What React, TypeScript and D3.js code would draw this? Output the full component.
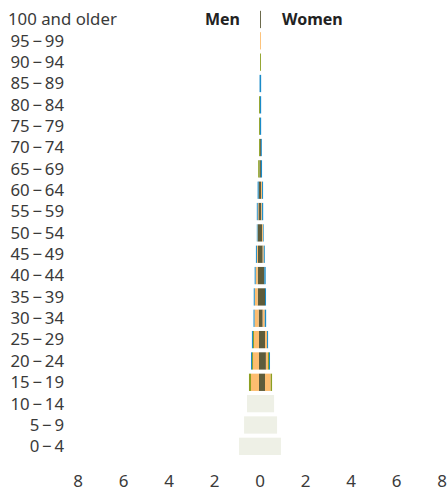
import React from "react";
import * as d3 from "d3";

const ageGroups = [
  "100 and older", "95\u2009\u2212\u200999", "90\u2009\u2212\u200994", "85\u2009\u2212\u200989", "80\u2009\u2212\u200984",
  "75\u2009\u2212\u200979", "70\u2009\u2212\u200974", "65\u2009\u2212\u200969", "60\u2009\u2212\u200964", "55\u2009\u2212\u200959",
  "50\u2009\u2212\u200954", "45\u2009\u2212\u200949", "40\u2009\u2212\u200944", "35\u2009\u2212\u200939", "30\u2009\u2212\u200934",
  "25\u2009\u2212\u200929", "20\u2009\u2212\u200924", "15\u2009\u2212\u200919", "10\u2009\u2212\u200914", "5\u2009\u2212\u20099",
  "0\u2009\u2212\u20094",
];

const seriesKeys = ["dark", "orange", "green", "blue", "grey"];
const seriesColors = ["#5e5c3b", "#fdbd70", "#8c9f22", "#1a8bc8", "#eef0e6"];

// Men, share of population (%) per series, rows top (oldest) to bottom
const menDark   = [0, 0, 0, 0, 0, 0, 0, 0.02, 0.06, 0.07, 0.09, 0.09, 0.10, 0.10, 0.06, 0.045, 0.045, 0.045, 0, 0, 0];
const menOrange = [0, 0, 0, 0, 0, 0, 0, 0, 0, 0.03, 0.02, 0.045, 0.09, 0.13, 0.18, 0.22, 0.26, 0.35, 0, 0, 0];
const menGreen  = [0, 0, 0, 0, 0.04, 0.04, 0.04, 0.06, 0, 0, 0, 0, 0, 0, 0, 0.045, 0.045, 0.09, 0, 0, 0];
const menBlue   = [0, 0, 0, 0.02, 0, 0, 0, 0, 0.045, 0.04, 0.03, 0.045, 0.045, 0.045, 0.045, 0.045, 0.045, 0, 0, 0, 0];
const menGrey   = [0, 0, 0, 0, 0, 0, 0, 0, 0, 0, 0, 0, 0, 0, 0, 0, 0, 0, 0.57, 0.70, 0.92];

// Women
const womenDark   = [0.04, 0, 0, 0, 0, 0, 0.04, 0.04, 0.045, 0.06, 0.09, 0.12, 0.19, 0.22, 0.12, 0.22, 0.26, 0.22, 0, 0, 0];
const womenOrange = [0, 0.04, 0, 0, 0, 0, 0, 0, 0.045, 0.03, 0.04, 0.045, 0, 0, 0.09, 0.09, 0.09, 0.25, 0, 0, 0];
const womenGreen  = [0, 0, 0.04, 0, 0, 0, 0, 0, 0, 0, 0, 0, 0, 0, 0, 0, 0.045, 0.06, 0, 0, 0];
const womenBlue   = [0, 0, 0, 0.05, 0.05, 0.05, 0.04, 0.05, 0.045, 0.05, 0.03, 0.045, 0.06, 0.045, 0.06, 0.045, 0.045, 0, 0, 0, 0];
const womenGrey   = [0, 0, 0, 0, 0, 0, 0, 0, 0, 0, 0, 0, 0, 0, 0, 0, 0, 0, 0.62, 0.75, 0.92];

const xTicks = [-8, -6, -4, -2, 0, 2, 4, 6, 8];

const W = 447;
const H = 491;
const FONT = "'Noto Sans', sans-serif";

export default function App() {
  const x = d3.scaleLinear().domain([-8, 8]).range([78, 442]);
  const y = d3
    .scaleBand<string>()
    .domain(ageGroups)
    .range([8.8, 457])
    .paddingInner(0.19)
    .paddingOuter(0.095);

  const men = [menDark, menOrange, menGreen, menBlue, menGrey];
  const women = [womenDark, womenOrange, womenGreen, womenBlue, womenGrey];

  const rows = ageGroups.map((age, i) => {
    const o: any = { age };
    seriesKeys.forEach((k, s) => {
      o["m_" + k] = men[s][i];
      o["w_" + k] = women[s][i];
    });
    return o;
  });

  const stackM = d3.stack<any>().keys(seriesKeys.map((k) => "m_" + k))(rows);
  const stackW = d3.stack<any>().keys(seriesKeys.map((k) => "w_" + k))(rows);

  const rects: React.ReactNode[] = [];
  stackM.forEach((layer, s) => {
    layer.forEach((d, i) => {
      const a = x(-d[0]);
      const b = x(-d[1]);
      if (a - b <= 0) return;
      rects.push(
        <rect key={`m${s}-${i}`} x={b} width={a - b} y={y(ageGroups[i])} height={y.bandwidth()} fill={seriesColors[s]} />
      );
    });
  });
  stackW.forEach((layer, s) => {
    layer.forEach((d, i) => {
      const a = x(d[0]);
      const b = x(d[1]);
      if (b - a <= 0) return;
      rects.push(
        <rect key={`w${s}-${i}`} x={a} width={b - a} y={y(ageGroups[i])} height={y.bandwidth()} fill={seriesColors[s]} />
      );
    });
  });

  return (
    <svg width={W} height={H} style={{ position: "absolute", left: 0, top: 0 }} fontFamily={FONT}>
      <rect width={W} height={H} fill="#fff" />
      {rects}
      {ageGroups.map((a, i) => (
        <text
          key={a}
          x={i === 0 ? 8 : 64}
          y={(y(a) as number) + y.bandwidth() / 2}
          dy="0.35em"
          textAnchor={i === 0 ? "start" : "end"}
          fontSize={16.8}
          fill="#3a3a3a"
        >
          {a}
        </text>
      ))}
      <text x={240} y={19.5} dy="0.35em" textAnchor="end" fontSize={16} fontWeight="bold" fill="#222">
        Men
      </text>
      <text x={282} y={19.5} dy="0.35em" textAnchor="start" fontSize={16} fontWeight="bold" fill="#222">
        Women
      </text>
      {xTicks.map((t) => (
        <text key={t} x={x(t)} y={481.5} dy="0.35em" textAnchor="middle" fontSize={17} fill="#3a3a3a">
          {Math.abs(t)}
        </text>
      ))}
    </svg>
  );
}
